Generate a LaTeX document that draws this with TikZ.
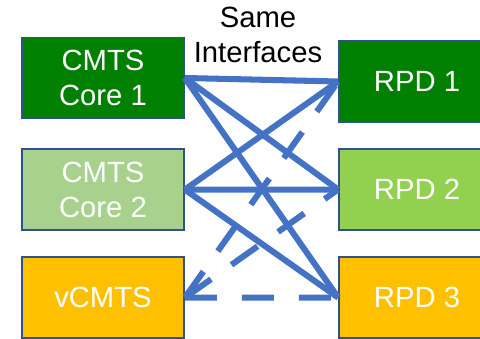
\documentclass[tikz,border=0pt]{standalone}
\usepackage{xcolor}
\usepackage{fontspec}
\setmainfont{Liberation Sans}
\usepackage{tikz}
\usetikzlibrary{positioning}
\definecolor{linkblue}{HTML}{4472C4}
\definecolor{boxedge}{HTML}{2F528F}
\definecolor{dkgreen}{HTML}{008000}
\definecolor{ltgreen}{HTML}{A9D18E}
\definecolor{midgreen}{HTML}{92D050}
\definecolor{amber}{HTML}{FFC000}
\begin{document}
\begin{tikzpicture}[x=0.025cm,y=-0.025cm,node distance = 2.7cm,inner sep=0pt,
  box/.style={draw=boxedge,line width=1.2pt,text=white,minimum width=4.05cm,minimum height=2.025cm,align=center,font=\fontsize{20.8}{25}\selectfont},
  link/.style={draw=linkblue,line width=4.3pt},
  vlink/.style={link,dash pattern=on 0.8cm off 0.625cm}]
\useasboundingbox (0,0) rectangle (480,339);
\node[box,fill=dkgreen] (C1) at (103,78) {CMTS\\Core 1};
\node[box,fill=ltgreen] (C2) [below of = C1,node distance = 2.79cm] {CMTS\\Core 2};
\node[box,fill=amber] (V) [below of = C2] {vCMTS};
\node[box,fill=dkgreen,minimum width=3.9cm] (R1) at (417,81.5) {RPD 1};
\node[box,fill=midgreen,minimum width=3.9cm] (R2) [below of = R1] {RPD 2};
\node[box,fill=amber,minimum width=3.9cm] (R3) [below of = R2] {RPD 3};
\node[anchor=north,align=center,font=\fontsize{20.8}{25}\selectfont] (S) at (258,6.5) {Same\\Interfaces};
% cores to RPDs
\path (C1.east) edge [link] (R1.west);
\path (C1.east) edge [link] (R2.west);
\path (C1.east) edge [link] (R3.west);
\path (C2.east) edge [link] (R1.west);
\path (C2.east) edge [link] (R2.west);
\path (C2.east) edge [link] (R3.west);
% vCMTS
\path (V.east) edge [vlink] (R1.west);
\path (V.east) edge [vlink] (R2.west);
\path (V.east) edge [vlink] (R3.west);
\end{tikzpicture}
\end{document}
